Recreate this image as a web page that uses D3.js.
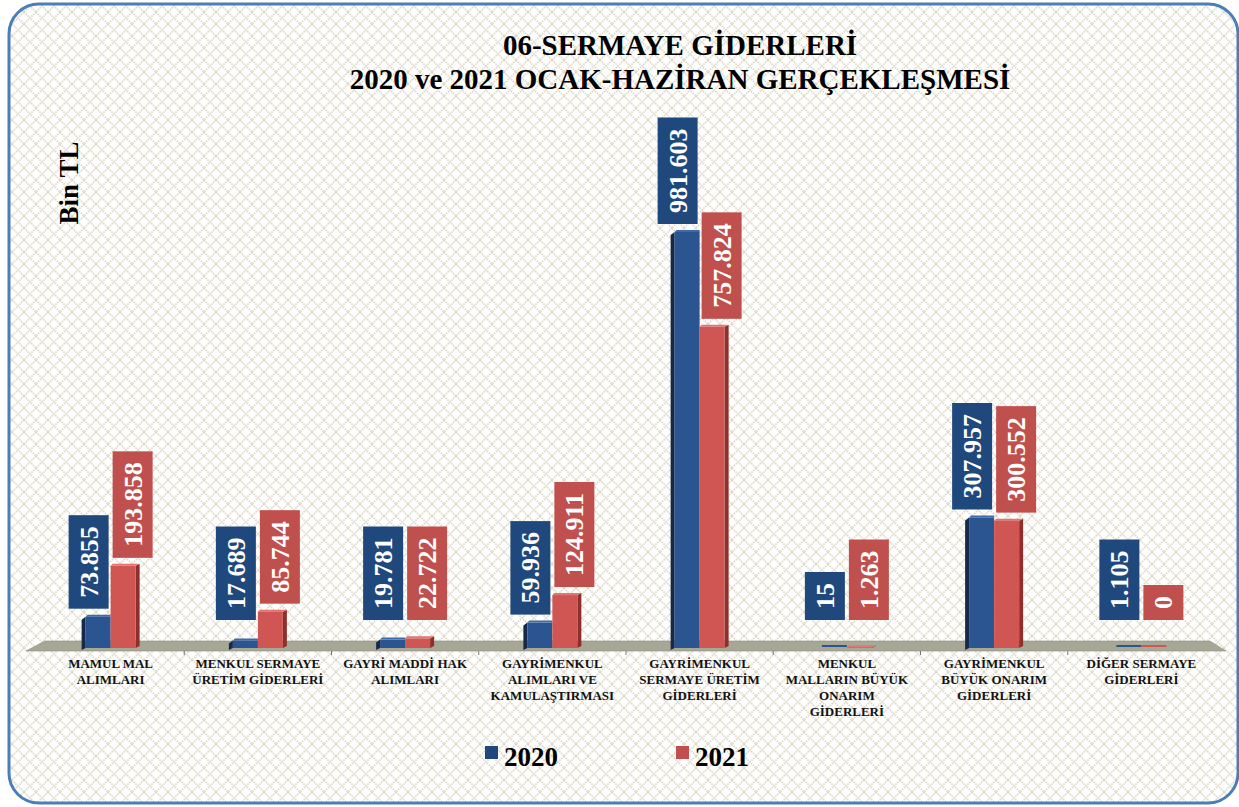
<!DOCTYPE html>
<html>
  <head>
    <meta charset="utf-8">
    <script src="https://d3js.org/d3.v7.min.js"></script>
    <title>06-Sermaye Giderleri</title>
    <style>
      body { margin: 0; background: #fff; }
      svg text { font-family: "Liberation Serif", "Times New Roman", Times, serif; font-weight: bold; }
    </style>
  </head>
  <body>
    <div id="chart"></div>
    <script>
      // chart data
      const categories = [
        ["MAMUL MAL", "ALIMLARI"],
        ["MENKUL SERMAYE", "ÜRETİM GİDERLERİ"],
        ["GAYRİ MADDİ HAK", "ALIMLARI"],
        ["GAYRİMENKUL", "ALIMLARI VE", "KAMULAŞTIRMASI"],
        ["GAYRİMENKUL", "SERMAYE ÜRETİM", "GİDERLERİ"],
        ["MENKUL", "MALLARIN BÜYÜK", "ONARIM", "GİDERLERİ"],
        ["GAYRİMENKUL", "BÜYÜK ONARIM", "GİDERLERİ"],
        ["DİĞER SERMAYE", "GİDERLERİ"]
      ];
      const years = ["2020", "2021"];
      const values2020 = [73.855, 17.689, 19.781, 59.936, 981.603, 0.015, 307.957, 1.105];
      const values2021 = [193.858, 85.744, 22.722, 124.911, 757.824, 1.263, 300.552, 0];
      const labels2020 = ["73.855", "17.689", "19.781", "59.936", "981.603", "15", "307.957", "1.105"];
      const labels2021 = ["193.858", "85.744", "22.722", "124.911", "757.824", "1.263", "300.552", "0"];

      const W = 1239, H = 807;
      const BASE = 648;
      const BAR_W = 25;
      const colors = { front: ["#2b5591", "#cf5653"], side: ["#152a4a", "#8e2f2c"], top: ["#3d6aa8", "#e07572"], box: ["#1f487d", "#c0504d"] };

      const svg = d3.select("#chart").append("svg")
        .attr("width", W).attr("height", H);

      // lattice background pattern
      const defs = svg.append("defs");
      const pat = defs.append("pattern")
        .attr("id", "lattice").attr("width", 12).attr("height", 12)
        .attr("patternUnits", "userSpaceOnUse");
      pat.append("rect").attr("width", 12).attr("height", 12).attr("fill", "#fff");
      pat.append("path").attr("d", "M0,0L12,12M12,0L0,12")
        .attr("stroke", "#dcd7c3").attr("stroke-width", 1.6).attr("stroke-dasharray", "1.5,1");

      svg.append("rect")
        .attr("x", 9).attr("y", 4).attr("width", 1229).attr("height", 799)
        .attr("rx", 30).attr("fill", "url(#lattice)")
        .attr("stroke", "#4a7ebb").attr("stroke-width", 3);

      // title
      const title = svg.append("g").attr("text-anchor", "middle");
      title.append("text").attr("x", 680).attr("y", 55).attr("font-size", 29).text("06-SERMAYE GİDERLERİ");
      title.append("text").attr("x", 680).attr("y", 89).attr("font-size", 29).text("2020 ve 2021 OCAK-HAZİRAN GERÇEKLEŞMESİ");

      svg.append("text")
        .attr("transform", "translate(78,183) rotate(-90)")
        .attr("text-anchor", "middle").attr("font-size", 27).text("Bin TL");

      // scales
      const x = d3.scaleBand().domain(d3.range(categories.length)).range([37, 1215]);
      const y = d3.scaleLinear().domain([0, 1000]).range([BASE, BASE - 423.8]);

      // floor
      svg.append("path")
        .attr("d", "M45,641L1210,641L1226,651L26,651Z")
        .attr("fill", "#a7a796").attr("stroke", "#8f8f80").attr("stroke-width", 0.6);
      svg.append("g").selectAll("line")
        .data(d3.range(1, categories.length))
        .join("line")
        .attr("x1", d => x(d)).attr("x2", d => x(d))
        .attr("y1", 651).attr("y2", 655)
        .attr("stroke", "#777").attr("stroke-width", 1);

      const series = [values2020, values2021];
      const labels = [labels2020, labels2021];

      // bars
      const bars = svg.append("g");
      series.forEach((vals, s) => {
        const g = bars.append("g");
        vals.forEach((v, i) => {
          const cx = x(i) + x.bandwidth() / 2;
          const x0 = s === 0 ? cx - BAR_W : cx;
          const yt = y(v);
          const h = BASE - yt;
          if (h <= 0.5) {
            g.append("rect").attr("x", x0).attr("y", BASE - 3).attr("width", BAR_W).attr("height", 2)
              .attr("fill", colors.front[s]);
            return;
          }
          // side face
          g.append("path")
            .attr("d", s === 0
              ? `M${x0},${yt}L${x0 - 4},${yt + 3}L${x0 - 4},${BASE + 2}L${x0},${BASE}Z`
              : `M${x0 + BAR_W},${yt}L${x0 + BAR_W + 4},${yt - 2}L${x0 + BAR_W + 4},${BASE - 2}L${x0 + BAR_W},${BASE}Z`)
            .attr("fill", colors.side[s]);
          g.append("path")
            .attr("d", `M${x0},${yt}L${x0 + BAR_W},${yt}L${x0 + BAR_W + (s === 0 ? 0 : 4)},${yt - 2}L${x0 + 2},${yt - 2}Z`)
            .attr("fill", colors.top[s]);
          g.append("rect")
            .attr("x", x0).attr("y", yt).attr("width", BAR_W).attr("height", h)
            .attr("fill", colors.front[s]);
        });
      });

      // value labels (rotated, in coloured boxes)
      const lab = svg.append("g");
      series.forEach((vals, s) => {
        vals.forEach((v, i) => {
          const cx = x(i) + x.bandwidth() / 2;
          const bx = s === 0 ? cx - 42 : cx + 2;
          const txt = labels[s][i];
          const t = lab.append("text")
            .attr("text-anchor", "middle").attr("font-size", 26).attr("fill", "#fff")
            .text(txt);
          const tw = t.node().getComputedTextLength();
          const bh = tw + 22;
          const bottom = Math.min(y(v) - 8, 620);
          const top = bottom - bh;
          lab.insert("rect", () => t.node())
            .attr("x", bx).attr("y", top).attr("width", 40).attr("height", bh)
            .attr("fill", colors.box[s]);
          t.attr("transform", `translate(${bx + 29},${top + bh / 2}) rotate(-90)`);
        });
      });

      // category labels
      const xl = svg.append("g").attr("text-anchor", "middle");
      categories.forEach((lines, i) => {
        const t = xl.append("text")
          .attr("x", x(i) + x.bandwidth() / 2).attr("y", 668)
          .attr("font-size", 13).attr("fill", "#111");
        lines.forEach((ln, k) => {
          t.append("tspan").attr("x", x(i) + x.bandwidth() / 2).attr("dy", k === 0 ? 0 : 16).text(ln);
        });
      });

      // legend
      const legend = svg.append("g");
      const legX = [485, 676];
      years.forEach((yr, s) => {
        legend.append("rect").attr("x", legX[s]).attr("y", 746).attr("width", 13).attr("height", 13)
          .attr("fill", colors.box[s]);
        legend.append("text").attr("x", legX[s] + 19).attr("y", 766)
          .attr("font-size", 27).attr("fill", "#000").text(yr);
      });
    </script>
  </body>
</html>
